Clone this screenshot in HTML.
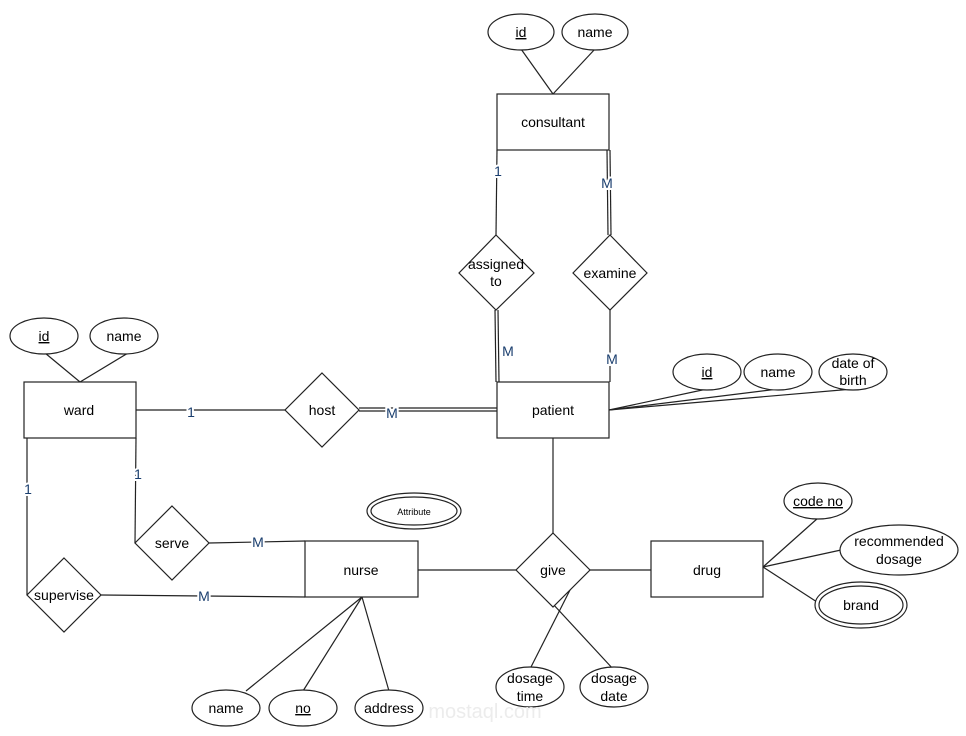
<!DOCTYPE html>
<html><head><meta charset="utf-8"><style>
html,body{margin:0;padding:0;background:#fff;}
svg{display:block;}
text{font-family:"Liberation Sans",Arial,sans-serif;font-size:14px;fill:#000;}
.l{fill:#1a3e6e;font-size:14px;stroke:#fff;stroke-width:4px;paint-order:stroke;}
</style></head><body>
<svg width="966" height="736" viewBox="0 0 966 736" xmlns="http://www.w3.org/2000/svg">
<g stroke="#222" stroke-width="1.2" fill="none">
<line x1="521" y1="49" x2="553" y2="94"/><line x1="595" y1="49" x2="553" y2="94"/>
<line x1="497" y1="150" x2="496" y2="235"/>
<line x1="607" y1="150" x2="608" y2="235"/><line x1="610" y1="150" x2="611" y2="235"/>
<line x1="495" y1="310" x2="496" y2="382"/><line x1="498" y1="310" x2="499" y2="382"/>
<line x1="610" y1="310" x2="610" y2="382"/>
<line x1="45" y1="353" x2="80" y2="382"/><line x1="128" y1="353" x2="80" y2="382"/>
<line x1="136" y1="410" x2="285" y2="410"/>
<line x1="359" y1="408" x2="497" y2="408"/><line x1="359" y1="411" x2="497" y2="411"/>
<line x1="609" y1="410" x2="707" y2="389"/><line x1="609" y1="410" x2="778" y2="389"/><line x1="609" y1="410" x2="853" y2="389"/>
<line x1="136" y1="438" x2="135" y2="543"/>
<line x1="209" y1="543" x2="305" y2="541"/>
<line x1="27" y1="438" x2="27" y2="595"/>
<line x1="101" y1="595" x2="305" y2="597"/>
<line x1="553" y1="438" x2="553" y2="533"/>
<line x1="418" y1="570" x2="516" y2="570"/>
<line x1="590" y1="570" x2="651" y2="570"/>
<line x1="570" y1="590" x2="531" y2="667"/>
<line x1="540" y1="590" x2="614" y2="670"/>
<line x1="763" y1="567" x2="818" y2="518"/><line x1="763" y1="567" x2="841" y2="550"/><line x1="763" y1="567" x2="817" y2="602"/>
<line x1="362" y1="597" x2="246" y2="691"/><line x1="362" y1="597" x2="303" y2="691"/><line x1="362" y1="597" x2="389" y2="691"/>
</g>
<g stroke="#222" stroke-width="1.2" fill="#fff">
<rect x="497" y="94" width="112" height="56"/>
<rect x="497" y="382" width="112" height="56"/>
<rect x="24" y="382" width="112" height="56"/>
<rect x="305" y="541" width="113" height="56"/>
<rect x="651" y="541" width="112" height="56"/>
<polygon points="496,235 534,273 496,310 459,273"/>
<polygon points="610,235 647,273 610,310 573,273"/>
<polygon points="322,373 359,410 322,447 285,410"/>
<polygon points="172,506 209,543 172,580 135,543"/>
<polygon points="64,558 101,595 64,632 27,595"/>
<polygon points="553,533 590,570 553,607 516,570"/>
<ellipse cx="521" cy="32" rx="33" ry="18"/>
<ellipse cx="595" cy="32" rx="33" ry="18"/>
<ellipse cx="44" cy="336" rx="34" ry="18"/>
<ellipse cx="124" cy="336" rx="34" ry="18"/>
<ellipse cx="707" cy="372" rx="34" ry="18"/>
<ellipse cx="778" cy="372" rx="34" ry="18"/>
<ellipse cx="853" cy="372" rx="34" ry="18"/>
<ellipse cx="818" cy="501" rx="34" ry="18"/>
<ellipse cx="899" cy="550" rx="59" ry="25"/>
<ellipse cx="861" cy="605" rx="46" ry="23"/><ellipse cx="861" cy="605" rx="42" ry="19"/>
<ellipse cx="414" cy="511" rx="47" ry="18"/><ellipse cx="414" cy="511" rx="43" ry="14"/>
<ellipse cx="530" cy="687" rx="34" ry="20"/>
<ellipse cx="614" cy="687" rx="34" ry="20"/>
<ellipse cx="226" cy="708" rx="34" ry="18"/>
<ellipse cx="303" cy="708" rx="34" ry="18"/>
<ellipse cx="389" cy="708" rx="34" ry="18"/>
</g>
<text x="485" y="718" text-anchor="middle" style="font-size:20px;fill:#ececec">mostaql.com</text>
<g text-anchor="middle">
<text x="521" y="37" text-decoration="underline">id</text>
<text x="595" y="37">name</text>
<text x="553" y="127">consultant</text>
<text x="496" y="269">assigned</text><text x="496" y="286">to</text>
<text x="610" y="278">examine</text>
<text x="553" y="415">patient</text>
<text x="79" y="415">ward</text>
<text x="322" y="415">host</text>
<text x="44" y="341" text-decoration="underline">id</text>
<text x="124" y="341">name</text>
<text x="707" y="377" text-decoration="underline">id</text>
<text x="778" y="377">name</text>
<text x="853" y="368">date of</text><text x="853" y="385">birth</text>
<text x="172" y="548">serve</text>
<text x="64" y="600">supervise</text>
<text x="361" y="575">nurse</text>
<text x="553" y="575">give</text>
<text x="707" y="575">drug</text>
<text x="818" y="506" text-decoration="underline">code no</text>
<text x="899" y="546">recommended</text><text x="899" y="564">dosage</text>
<text x="861" y="610">brand</text>
<text x="414" y="515" style="font-size:9px">Attribute</text>
<text x="530" y="683">dosage</text><text x="530" y="701">time</text>
<text x="614" y="683">dosage</text><text x="614" y="701">date</text>
<text x="226" y="713">name</text>
<text x="303" y="713" text-decoration="underline">no</text>
<text x="389" y="713">address</text>
<text class="l" x="498" y="176">1</text>
<text class="l" x="607" y="188">M</text>
<text class="l" x="508" y="356">M</text>
<text class="l" x="612" y="364">M</text>
<text class="l" x="191" y="417">1</text>
<text class="l" x="392" y="418">M</text>
<text class="l" x="138" y="479">1</text>
<text class="l" x="28" y="494">1</text>
<text class="l" x="258" y="547">M</text>
<text class="l" x="204" y="601">M</text>
</g>
</svg>
</body></html>
